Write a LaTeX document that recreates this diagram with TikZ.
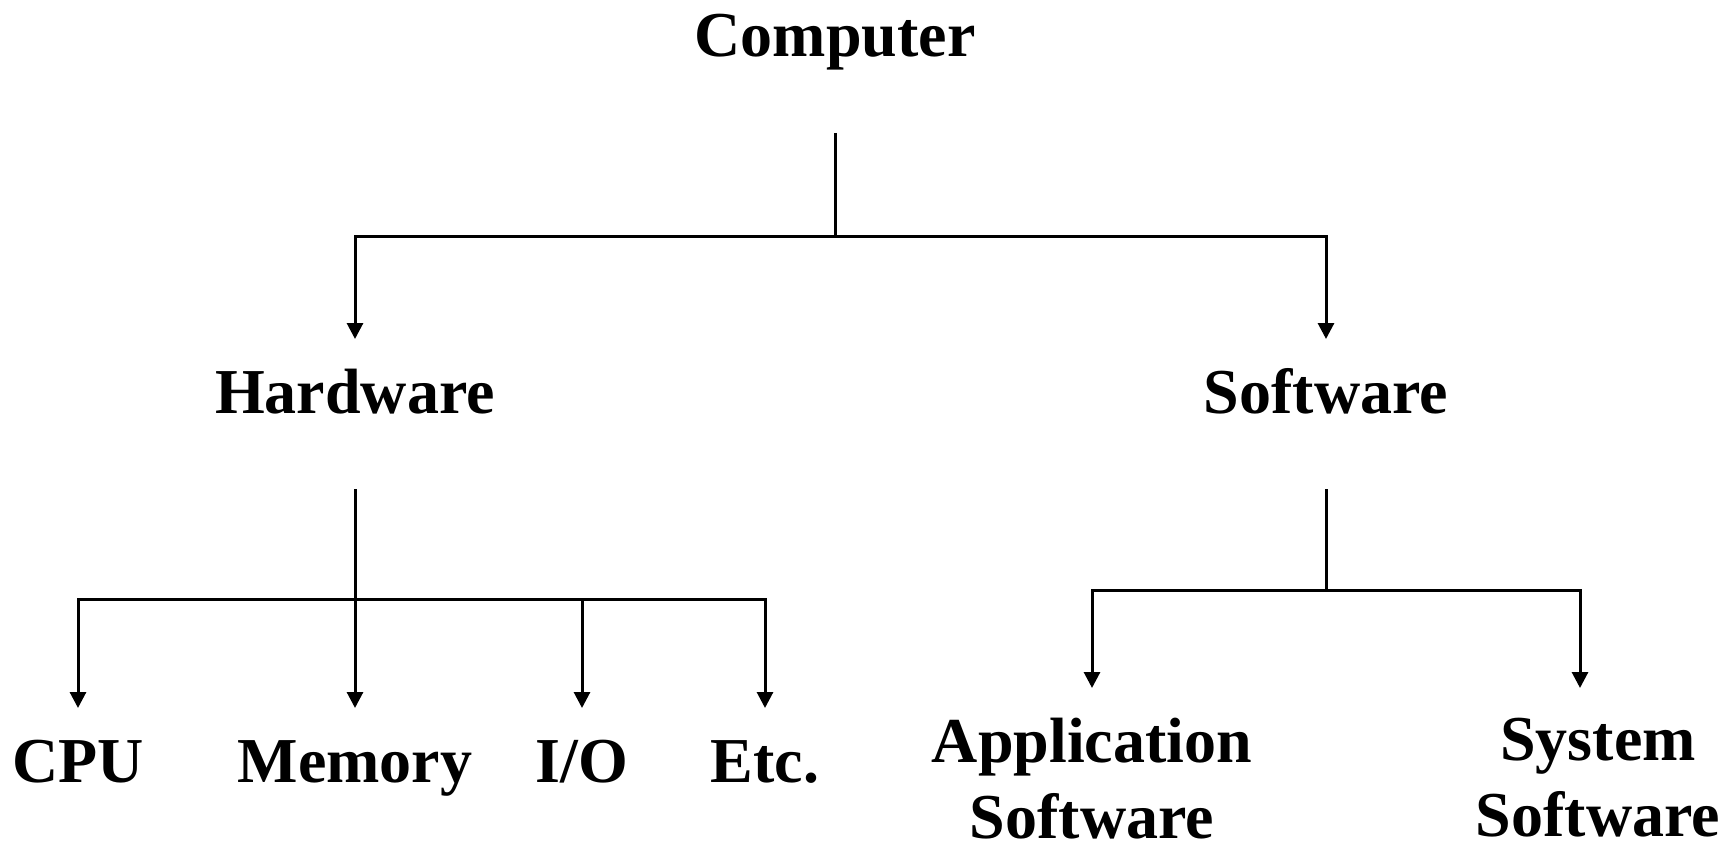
\documentclass[tikz,border=0pt]{standalone}
\usepackage{fontspec}
\setmainfont{Liberation Serif}
\usetikzlibrary{arrows.meta}

\begin{document}
\begin{tikzpicture}[x=1pt, y=-1pt, line width=3pt,
	txt/.style={font=\fontsize{64}{76}\selectfont\bfseries, inner sep=0pt, outer ysep=30pt},
	lbl/.style={txt, text height=44pt, text depth=46pt},
	arr/.style={-{Triangle[width=16pt,length=16pt]}}]
	\useasboundingbox (0,0) rectangle (1721,845);
	\node [lbl, anchor=base] (comp) at (835,57) {Computer};
	\node [lbl, anchor=north] (hard) at (355,339) {Hardware};
	\node [lbl, anchor=north] (soft) at (1326,339) {Software};
	\node [lbl, anchor=north] (cpu) at (78,708) {CPU};
	\node [lbl, anchor=north] (mem) at (355,708) {Memory};
	\node [lbl, anchor=north] (io) at (582,708) {I/O};
	\node [lbl, anchor=north] (etc) at (765,708) {Etc.};
	\node [txt, align=center, anchor=north] (app) at (1092,688) {Application\\Software};
	\node [txt, align=center, anchor=north] (sys) at (1598,688) {System\\Software};
	\coordinate (top) at (835,236);
	\coordinate (hbus) at (355,599);
	\coordinate (sbus) at (1326,590);
	\draw [arr] (comp.south) -- (top) -| (hard.north);
	\draw [arr] (top) -| (soft.north);
	\draw [arr] (hard.south) -- (mem.north);
	\draw [arr] (hbus) -| (cpu.north);
	\draw [arr] (hbus) -| (io.north);
	\draw [arr] (hbus) -| (etc.north);
	\draw (soft.south) -- (sbus);
	\draw [arr] (sbus) -| (app.north);
	\draw [arr] (sbus) -| ([xshift=-18pt]sys.north);
\end{tikzpicture}
\end{document}
